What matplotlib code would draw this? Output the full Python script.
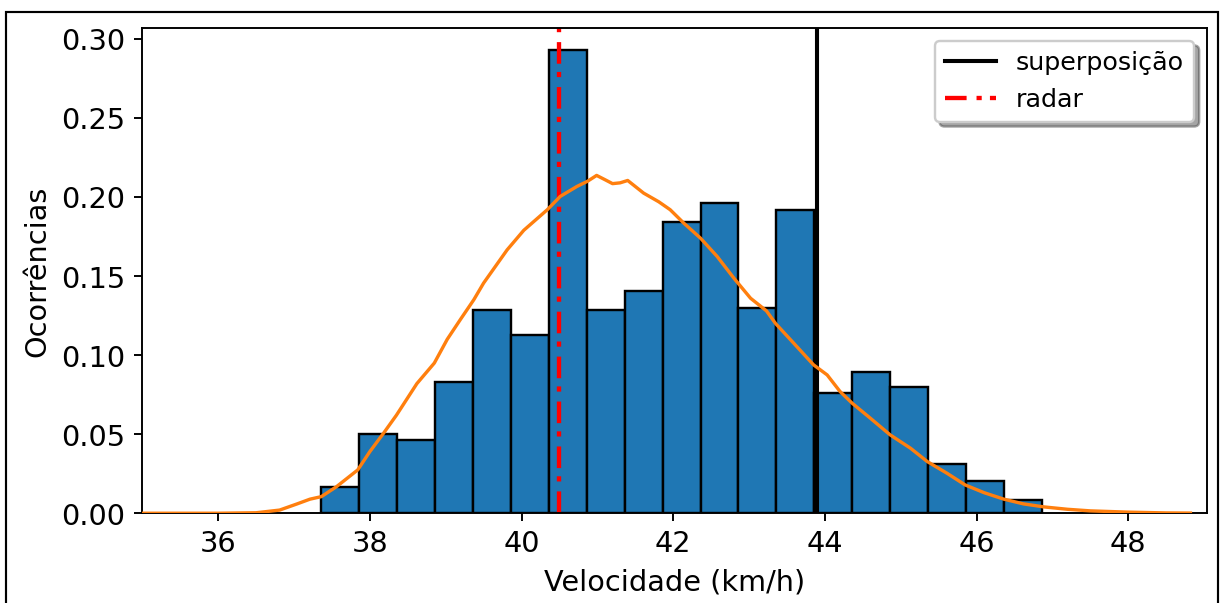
import numpy as np
import matplotlib
matplotlib.use("Agg")
import matplotlib.pyplot as plt
from matplotlib.patches import Rectangle

# ---- data ----
bin_edges = [37.36, 37.86, 38.36, 38.86, 39.36, 39.86, 40.36, 40.86, 41.36, 41.86,
             42.36, 42.86, 43.36, 43.86, 44.36, 44.86, 45.36, 45.86, 46.36, 46.86]
occurrences = [0.0165, 0.0504, 0.0464, 0.0831, 0.1285, 0.1127, 0.2932, 0.1285, 0.1407, 0.1842,
               0.1962, 0.1300, 0.1920, 0.0759, 0.0892, 0.0801, 0.0312, 0.0206, 0.0086]

kde_x = [35.0, 35.5, 36.0, 36.5, 36.81, 37.04, 37.21, 37.36, 37.56, 37.84, 38.0, 38.18,
         38.35, 38.62, 38.85, 39.02, 39.2, 39.37, 39.5, 39.81, 40.03, 40.34, 40.51, 40.73,
         40.87, 40.99, 41.1, 41.2, 41.3, 41.4, 41.61, 41.81, 41.96, 42.14, 42.36, 42.58,
         42.8, 43.02, 43.23, 43.35, 43.6, 43.85, 44.03, 44.2, 44.36, 44.6, 44.86, 45.13,
         45.35, 45.61, 45.85, 46.1, 46.36, 46.62, 46.89, 47.2, 47.5, 48.0, 48.5, 48.82]
kde_y = [0.0, 0.0, 0.0, 0.0003, 0.0020, 0.0059, 0.0089, 0.0105, 0.0168, 0.0274, 0.039, 0.0506,
         0.062, 0.082, 0.095, 0.110, 0.123, 0.135, 0.1456, 0.1666, 0.179, 0.192, 0.2004, 0.2067,
         0.2100, 0.2137, 0.2110, 0.2085, 0.2090, 0.2105, 0.2025, 0.197, 0.192, 0.1835, 0.174, 0.1624,
         0.1487, 0.136, 0.1280, 0.120, 0.107, 0.0939, 0.0875, 0.077, 0.0696, 0.0601, 0.0496, 0.0411,
         0.0327, 0.0253, 0.0179, 0.0130, 0.0089, 0.0059, 0.0040, 0.0025, 0.0015, 0.0007, 0.0002, 0.0001]

superposicao_x = 43.9
radar_x = 40.5

x_ticks = [36, 38, 40, 42, 44, 46, 48]
y_ticks = [0.00, 0.05, 0.10, 0.15, 0.20, 0.25, 0.30]

# ---- figure ----
DPI = 172.8
fig = plt.figure(figsize=(1220.4 / DPI, 603.4 / DPI), dpi=DPI)
ax = fig.add_axes([142.3 / 1220, 1 - 513.3 / 603, (1206.7 - 142.3) / 1220, (513.3 - 28.3) / 603])

edges = np.array(bin_edges)
ax.bar(edges[:-1], occurrences, width=np.diff(edges), align='edge',
       color='#1f77b4', edgecolor='black', linewidth=1.0)

ax.axvline(superposicao_x, color='black', linewidth=1.7, label='superposição')
ax.axvline(radar_x, color='red', linewidth=1.8, label='radar',
           dashes=(5.0, 2.3, 1.2, 1.9))
ax.plot(kde_x, kde_y, color='#ff7f0e', linewidth=1.4, zorder=3)

ax.set_xlim(35, 49.04)
ax.set_ylim(0, 0.307)
ax.set_xticks(x_ticks)
ax.set_yticks(y_ticks)
ax.tick_params(labelsize=12)
ax.set_xlabel('Velocidade (km/h)', fontsize=12)
ax.set_ylabel('Ocorrências', fontsize=12)

ax.legend(loc='upper right', shadow=True, fontsize=10.6)

# document frame around the figure
fig.add_artist(Rectangle((6 / 1220, -0.05), 1212 / 1220, 1.05 - 12.3 / 603,
                         transform=fig.transFigure, fill=False,
                         edgecolor='black', linewidth=0.9, clip_on=False))

fig.savefig('out.png', dpi=DPI)
